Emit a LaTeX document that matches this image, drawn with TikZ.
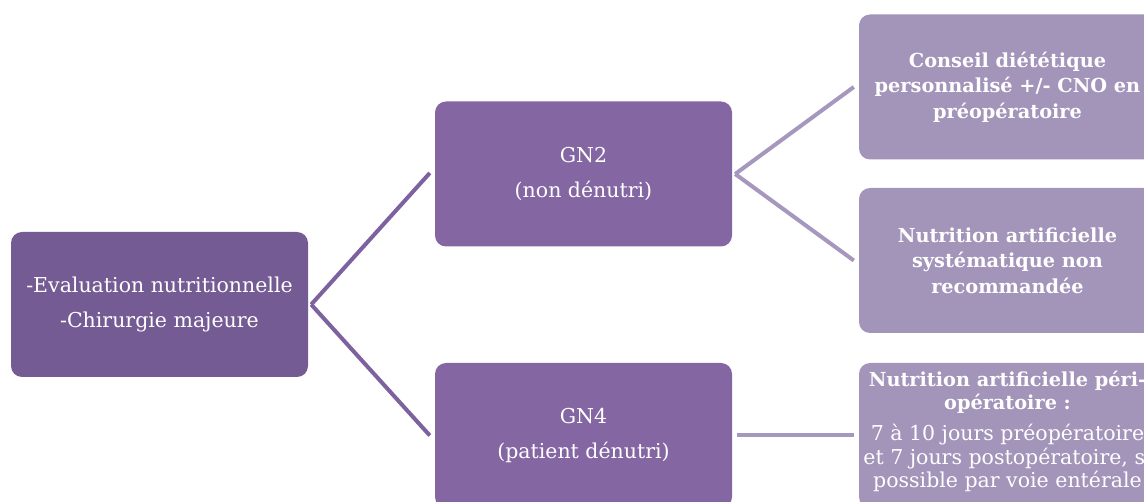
\documentclass[tikz,border=0pt]{standalone}
\usepackage{fontspec}
\setmainfont{DejaVu Serif}
\definecolor{cL}{HTML}{745B93}
\definecolor{cM}{HTML}{8467A2}
\definecolor{cR}{HTML}{A394BA}
\definecolor{lnA}{HTML}{7E62A0}
\definecolor{lnB}{HTML}{A597BD}
\newcommand{\btl}{\fontsize{19.3}{23}\selectfont\bfseries}
\tikzset{
  box/.style={rectangle, rounded corners=11pt, minimum width=297pt, minimum height=145pt, inner sep=0pt, text=white, align=center},
  lvlA/.style={box, fill=cL, font=\fontsize{20.5}{35}\selectfont},
  lvlB/.style={box, fill=cM, font=\fontsize{20.5}{35}\selectfont},
  lvlC/.style={box, fill=cR, font=\fontsize{19.3}{25.5}\selectfont\bfseries},
  linkA/.style={draw=lnA, line width=4pt},
  linkB/.style={draw=lnB, line width=4pt},
}
\begin{document}
\begin{tikzpicture}[x=1pt,y=-1pt]
\useasboundingbox (0,0) rectangle (1144,502);
\clip (0,0) rectangle (1144,502);
\node[lvlA] (root) at (159.5,304.5) {-Evaluation nutritionnelle\\-Chirurgie majeure};
\node[lvlB] (gn2) at (583.5,174) {GN2\\(non dénutri)};
\node[lvlB] (gn4) at (583.5,435.5) {GN4\\(patient dénutri)};
\node[lvlC] (r1) at (1007.5,87) {Conseil diététique\\personnalisé +/- CNO en\\préopératoire};
\node[lvlC] (r2) at (1007.5,260.5) {Nutrition artificielle\\systématique non\\recommandée};
\node[lvlC] (r3) at (1007.5,435.5) {};
\node[text=white, align=center, anchor=north, inner sep=0pt, font=\fontsize{20.5}{23.5}\selectfont] (r3t) at ([yshift=-8pt]r3.north)
  {{\btl Nutrition artificielle péri-}\\{\btl opératoire :}\\[7.5pt]
   7 à 10 jours préopératoire\\et 7 jours postopératoire, si\\possible par voie entérale};
\draw[linkA] ([xshift=3pt]root.east) -- ([xshift=-5pt,yshift=1pt]gn2.west);
\draw[linkA] ([xshift=3pt]root.east) -- ([xshift=-5pt]gn4.west);
\draw[linkB] ([xshift=3pt]gn2.east) -- ([xshift=-5pt]r1.west);
\draw[linkB] ([xshift=3pt]gn2.east) -- ([xshift=-5pt]r2.west);
\draw[linkB] ([xshift=5pt]gn4.east) -- ([xshift=-5pt]r3.west);
\end{tikzpicture}
\end{document}
